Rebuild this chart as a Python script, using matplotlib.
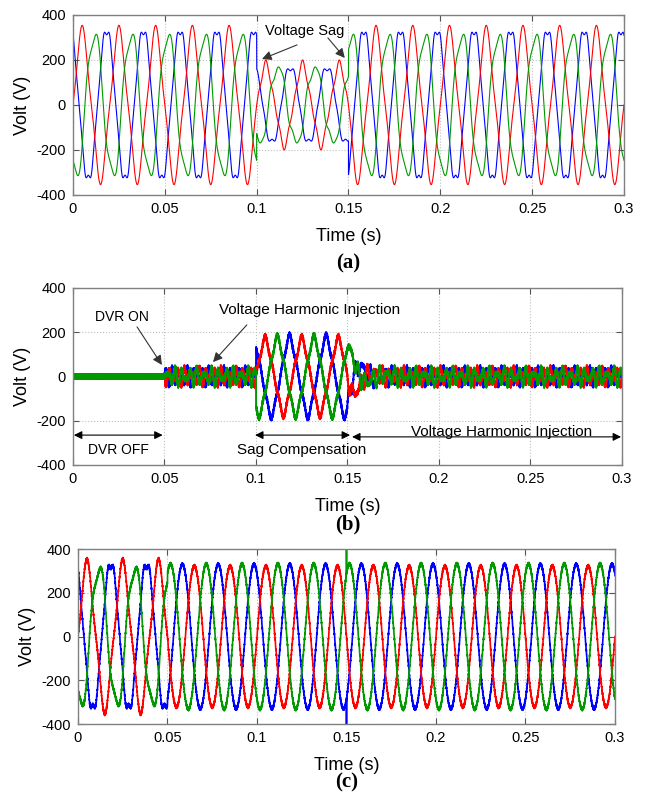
import numpy as np
import matplotlib.pyplot as plt

plt.rcParams['font.family'] = ['Liberation Sans', 'DejaVu Sans']
plt.rcParams['axes.unicode_minus'] = False

# ---- signal description ----
f0 = 50.0
dt = 1e-5
t_end = 0.3
phase_colors = ['#ff0000', '#009900', '#0000ff']   # a, b, c phases
phase_shift = [0.0, -120.0, 120.0]                  # degrees

# (a) grid voltage
src_amp = [322.0, 318.0, 335.0]
src_harm = [[(3, -32.0, 0.0)],
            [(3, 36.0, 55.0)],
            [(5, -15.0, 0.0), (7, 8.0, 0.0)]]
sag_window = [0.10, 0.15]
sag_amp = [172.0, 170.0, 172.0]
sag_harm = [[(3, -16.0, 0.0), (5, 12.0, 0.0)],
            [(3, 18.0, 55.0), (5, 10.0, 30.0)],
            [(3, 8.0, 0.0), (5, -12.0, 0.0)]]

# (b) DVR injected voltage
dvr_on = 0.05
inj_harm = [(5, 28.0), (7, 16.0)]
comp_amp = [158.0, 162.0, 165.0]
comp_harm = [(3, -14.0), (5, 12.0)]
comp_release = [150.0, 0.006]          # decaying transient after the sag: amplitude, tau
ripple = [(4150.0, 6.0), (6900.0, 4.0)]
inj_spikes = [(0.0, 1, 100.0), (0.0, 2, -100.0)]

# (c) load voltage
load_amp = [322.0, 332.0, 330.0]
load_spikes = [(0.15, 1, 480.0), (0.15, 2, -480.0)]

xticks = [0, 0.05, 0.1, 0.15, 0.2, 0.25, 0.3]
xticklabels = ['0', '0.05', '0.1', '0.15', '0.2', '0.25', '0.3']
yticks = [-400, -200, 0, 200, 400]
yticklabels = ['-400', '-200', '0', '200', '400']

# ---- build waveforms ----
t = np.arange(0, t_end + dt, dt)
w = 2 * np.pi * f0


def harm_wave(amp, harm, sh):
    x = w * t + np.deg2rad(sh)
    y = amp * np.sin(x)
    for h in harm:
        y = y + h[1] * np.sin(h[0] * x + np.deg2rad(h[2] if len(h) > 2 else 0.0))
    return y


def ripple_wave(k, scale=1.0):
    y = np.zeros_like(t)
    for fr, a in ripple:
        y = y + scale * a * np.sin(2 * np.pi * fr * t + k * 2.1)
    return y


in_sag = (t >= sag_window[0]) & (t < sag_window[1])
after_on = t >= dvr_on
after_sag = t >= sag_window[1]

grid_v, inj_v, load_v = [], [], []
for k in range(3):
    sh = phase_shift[k]
    normal = harm_wave(src_amp[k], src_harm[k], sh)
    sag = harm_wave(sag_amp[k], sag_harm[k], sh)
    va = np.where(in_sag, sag, normal)
    grid_v.append(va)

    harmonic = harm_wave(0.0, [(h, a, 0.0) for h, a in inj_harm], sh)
    comp = harm_wave(comp_amp[k], [(h, a, 0.0) for h, a in comp_harm], sh)
    release = comp_release[0] * np.exp(-(t - sag_window[1]) / comp_release[1]) * np.sin(w * t + np.deg2rad(sh))
    vb = ripple_wave(k)
    vb = vb + np.where(after_on & ~in_sag, harmonic, 0.0)
    vb = vb + np.where(in_sag, comp, 0.0)
    vb = vb + np.where(after_sag, release, 0.0)
    inj_v.append(vb)

    clean = load_amp[k] * np.sin(w * t + np.deg2rad(sh))
    vc = np.where(after_on, clean, normal) + ripple_wave(k, 0.8)
    load_v.append(vc)

for ts, k, v in inj_spikes:
    inj_v[k][int(round(ts / dt))] = v
for ts, k, v in load_spikes:
    load_v[k][int(round(ts / dt))] = v

# ---- figure ----
fig = plt.figure(figsize=(6.46, 8.01), dpi=100)
ax_a = fig.add_axes([0.1130, 0.7566, 0.8529, 0.2247])
ax_b = fig.add_axes([0.1130, 0.4195, 0.8498, 0.2210])
ax_c = fig.add_axes([0.1207, 0.0961, 0.8313, 0.2185])


def style(ax):
    ax.set_xlim(0, 0.3)
    ax.set_ylim(-400, 400)
    ax.set_xticks(xticks)
    ax.set_xticklabels(xticklabels)
    ax.set_yticks(yticks)
    ax.set_yticklabels(yticklabels)
    ax.grid(True, ls=':', color='#c0c0c0', lw=0.8)
    ax.tick_params(direction='in', top=True, right=True, labelsize=10.5,
                   length=4, color='#555555', pad=5)
    for s in ax.spines.values():
        s.set_color('#808080')
        s.set_linewidth(1.0)
    ax.set_xlabel('Time (s)', fontsize=13, labelpad=9)
    ax.set_ylabel('Volt (V)', fontsize=13, labelpad=4)


order = [2, 0, 1]
for k in order:
    ax_a.plot(t, grid_v[k], color=phase_colors[k], lw=0.8)
    ax_b.plot(t, inj_v[k], color=phase_colors[k], lw=1.4)
    ax_c.plot(t, load_v[k], color=phase_colors[k], lw=1.2)

for ax in (ax_a, ax_b, ax_c):
    style(ax)

arrow = dict(arrowstyle='-|>', color='#333333', lw=0.8, mutation_scale=14,
             shrinkA=0, shrinkB=0)
dbl = dict(arrowstyle='<|-|>', color='black', lw=0.8, mutation_scale=12,
           shrinkA=0, shrinkB=0)

# (a) annotations
ax_a.text(0.1263, 329, 'Voltage Sag', fontsize=10.5, ha='center', va='center')
ax_a.annotate('', xy=(0.1029, 204), xytext=(0.122, 267), arrowprops=arrow)
ax_a.annotate('', xy=(0.148, 209), xytext=(0.1388, 298), arrowprops=arrow)

# (b) annotations
ax_b.text(0.027, 270, 'DVR ON', fontsize=10, ha='center', va='center')
ax_b.annotate('', xy=(0.0486, 52), xytext=(0.035, 224), arrowprops=arrow)
ax_b.text(0.1295, 300, 'Voltage Harmonic Injection', fontsize=11, ha='center', va='center')
ax_b.annotate('', xy=(0.0765, 65), xytext=(0.095, 233), arrowprops=arrow)
ax_b.annotate('', xy=(0.0005, -265), xytext=(0.049, -265), arrowprops=dbl)
ax_b.text(0.0246, -332, 'DVR OFF', fontsize=10, ha='center', va='center')
ax_b.annotate('', xy=(0.0995, -265), xytext=(0.1514, -265), arrowprops=dbl)
ax_b.text(0.125, -332, 'Sag Compensation', fontsize=11, ha='center', va='center')
ax_b.annotate('', xy=(0.1525, -273), xytext=(0.2995, -273), arrowprops=dbl)
ax_b.text(0.2344, -252, 'Voltage Harmonic Injection', fontsize=11, ha='center', va='center')

for ax, lab, yy in ((ax_a, '(a)', 0.671), (ax_b, '(b)', 0.345), (ax_c, '(c)', 0.0225)):
    pos = ax.get_position()
    fig.text(pos.x0 + pos.width / 2, yy, lab, fontsize=15, fontweight='bold',
             family=['Liberation Serif', 'DejaVu Serif'], ha='center', va='center')

fig.savefig('out.png', dpi=100)
